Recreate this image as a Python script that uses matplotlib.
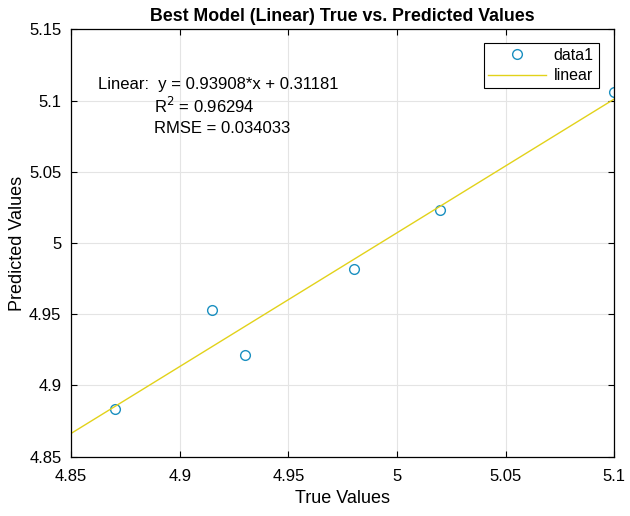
import matplotlib.pyplot as plt
import numpy as np

plt.rcParams['font.family'] = ['Liberation Sans', 'DejaVu Sans']

# data
true_vals = [4.870, 4.915, 4.930, 4.980, 5.020, 5.100]
pred_vals = [4.8835, 4.9530, 4.9215, 4.9815, 5.0235, 5.1060]
slope, intercept = 0.93908, 0.31181
r2, rmse = 0.96294, 0.034033
xticks = [4.85, 4.9, 4.95, 5.0, 5.05, 5.1]
yticks = [4.85, 4.9, 4.95, 5.0, 5.05, 5.1, 5.15]
xlabels = ['4.85', '4.9', '4.95', '5', '5.05', '5.1']
ylabels = ['4.85', '4.9', '4.95', '5', '5.05', '5.1', '5.15']

fig = plt.figure(figsize=(6.3, 5.16), dpi=100)
ax = fig.add_axes([0.113, 0.115, 0.862, 0.828])

ax.plot(true_vals, pred_vals, 'o', mfc='none', mec='#1a8fc0', ms=7, mew=1.0, label='data1')
xl = np.array([xticks[0], xticks[-1]])
ax.plot(xl, slope * xl + intercept, color='#e2d21a', lw=1.0, label='linear')

ax.set_xlim(xticks[0], xticks[-1])
ax.set_ylim(yticks[0], yticks[-1])
ax.set_xticks(xticks, xlabels)
ax.set_yticks(yticks, ylabels)
ax.tick_params(direction='in', top=True, right=True, labelsize=12, length=4, width=0.8)
ax.tick_params(axis='x', pad=9)
ax.tick_params(axis='y', pad=7)
ax.grid(True, color='#e4e4e4', lw=0.8)
ax.set_axisbelow(True)
for s in ax.spines.values():
    s.set_linewidth(0.9)

ax.set_title('Best Model (Linear) True vs. Predicted Values', fontsize=12.8, fontweight='bold', pad=6)
ax.set_xlabel('True Values', fontsize=13, labelpad=4)
ax.set_ylabel('Predicted Values', fontsize=13, labelpad=2)

ax.text(0.049, 0.872, f'Linear:  y = {slope:.5f}*x + {intercept:.5f}', transform=ax.transAxes,
        fontsize=12, va='center')
ax.text(0.152, 0.822, f'R$^2$ = {r2:.5f}', transform=ax.transAxes, fontsize=12, va='center')
ax.text(0.152, 0.768, f'RMSE = {rmse:.6f}', transform=ax.transAxes, fontsize=12, va='center')

leg = ax.legend(loc='upper right', bbox_to_anchor=(0.98, 0.98), fontsize=11.5, fancybox=False,
                edgecolor='black', framealpha=1, handlelength=3.6, borderpad=0.3,
                labelspacing=0.35, handletextpad=0.5, borderaxespad=0.3)
leg.get_frame().set_linewidth(0.8)

fig.savefig('out.png', dpi=100)
